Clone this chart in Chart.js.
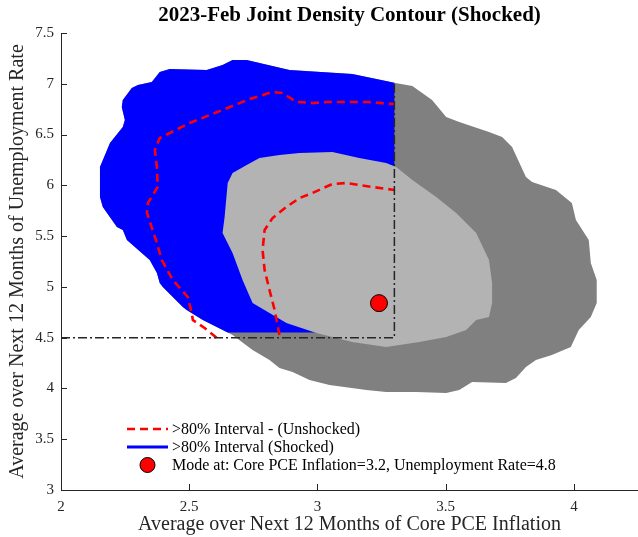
<!DOCTYPE html>
<html>
<head>
<meta charset="utf-8">
<script src="https://cdn.jsdelivr.net/npm/chart.js@4.4.1/dist/chart.umd.min.js"></script>
<style>
  html, body { margin: 0; padding: 0; background: #ffffff; }
  #wrap { width: 638px; height: 537px; }
</style>
</head>
<body>
<div id="wrap"><canvas id="chart"></canvas></div>
<script>
// Axis ticks
const xTicks = [2, 2.5, 3, 3.5, 4];
const yTicks = [3, 3.5, 4, 4.5, 5, 5.5, 6, 6.5, 7, 7.5];

// Shocked >80% region (outer contour)
const shockedX = [2.385, 2.424, 2.568, 2.630, 2.669, 2.724, 2.891, 3.136, 3.304, 3.370,
  3.447, 3.502, 3.553, 3.669, 3.720, 3.759, 3.813, 3.837, 3.930, 3.992,
  4.008, 4.058, 4.066, 4.089, 4.089, 4.066, 4.019, 3.988, 3.914, 3.852,
  3.813, 3.774, 3.735, 3.603, 3.553, 3.502, 3.385, 3.268, 3.191, 3.047,
  2.969, 2.903, 2.852, 2.813, 2.747, 2.669, 2.646, 2.553, 2.490, 2.475,
  2.397, 2.385, 2.374, 2.346, 2.257, 2.241, 2.218, 2.163, 2.152, 2.152,
  2.191, 2.241, 2.249, 2.237, 2.241, 2.276, 2.300, 2.354];
const shockedY = [7.116, 7.146, 7.136, 7.185, 7.234, 7.234, 7.136, 7.096, 7.008, 6.978,
  6.840, 6.673, 6.624, 6.525, 6.476, 6.378, 6.082, 6.033, 5.954, 5.826,
  5.659, 5.462, 5.235, 5.068, 4.841, 4.704, 4.576, 4.408, 4.329, 4.280,
  4.211, 4.103, 4.054, 4.064, 3.985, 3.955, 3.965, 3.965, 3.985, 4.034,
  4.083, 4.162, 4.201, 4.280, 4.379, 4.526, 4.556, 4.674, 4.773, 4.802,
  4.999, 5.038, 5.137, 5.265, 5.462, 5.560, 5.590, 5.787, 5.885, 6.181,
  6.417, 6.574, 6.643, 6.771, 6.840, 6.958, 6.988, 7.018];

// Inner high-density region
const coreX = [2.774, 2.852, 2.930, 3.058, 3.163, 3.268, 3.307, 3.370, 3.463, 3.541,
  3.619, 3.669, 3.681, 3.681, 3.669, 3.619, 3.580, 3.502, 3.397, 3.268,
  3.136, 2.996, 2.879, 2.747, 2.708, 2.669, 2.630, 2.638, 2.650, 2.669, 2.724];
const coreY = [6.269, 6.299, 6.318, 6.328, 6.269, 6.220, 6.181, 6.053, 5.885, 5.728,
  5.531, 5.265, 5.038, 4.841, 4.704, 4.674, 4.576, 4.507, 4.457, 4.408,
  4.457, 4.546, 4.645, 4.841, 5.068, 5.334, 5.531, 5.688, 6.023, 6.121, 6.200];

// Unshocked >80% interval, shown inside the quadrant only
const unshockedOuterX = [2.607, 2.560, 2.514, 2.510, 2.494, 2.436, 2.393, 2.374, 2.335, 2.339,
  2.377, 2.374, 2.366, 2.385, 2.502, 2.630, 2.735, 2.825, 2.864, 2.918,
  2.981, 3.047, 3.191, 3.300];
const unshockedOuterY = [4.500, 4.595, 4.674, 4.743, 4.901, 5.068, 5.265, 5.432, 5.728, 5.826,
  5.984, 6.181, 6.348, 6.466, 6.614, 6.742, 6.850, 6.919, 6.909, 6.821,
  6.811, 6.821, 6.821, 6.801];
const unshockedInnerX = [2.852, 2.833, 2.813, 2.794, 2.786, 2.794, 2.825, 2.879, 2.930, 2.981,
  3.058, 3.113, 3.214, 3.300];
const unshockedInnerY = [4.526, 4.773, 4.969, 5.166, 5.363, 5.560, 5.678, 5.787, 5.875, 5.925,
  6.013, 6.023, 5.984, 5.954];

// Quadrant thresholds and the mode
const cutoffX = 3.3;
const cutoffY = 4.5;
const cutoffTop = 7.0;
const shockedFloor = 4.55;
const modeX = 3.24;
const modeY = 4.84;

const SERIF = '"Liberation Serif", "Times New Roman", serif';
const AXIS = '#262626';

const toPoints = (xs, ys) => xs.map((x, i) => ({ x, y: ys[i] }));

// Sutherland-Hodgman clip of a closed polygon against one half-plane
function clipHalf(pts, inside, cut) {
  const out = [];
  for (let i = 0; i < pts.length; i++) {
    const a = pts[i], b = pts[(i + 1) % pts.length];
    const ia = inside(a), ib = inside(b);
    if (ia) out.push(a);
    if (ia !== ib) out.push(cut(a, b));
  }
  return out;
}
const atX = v => (a, b) => ({ x: v, y: a.y + (v - a.x) / (b.x - a.x) * (b.y - a.y) });
const atY = v => (a, b) => ({ x: a.x + (v - a.y) / (b.y - a.y) * (b.x - a.x), y: v });

const shockedPts = toPoints(shockedX, shockedY);
const shockedQuadrant = clipHalf(
  clipHalf(shockedPts, p => p.x <= cutoffX, atX(cutoffX)),
  p => p.y >= shockedFloor, atY(shockedFloor));

const LBL_UNSHOCKED = '>80% Interval - (Unshocked)';
const LBL_SHOCKED = '>80% Interval (Shocked)';
const LBL_MODE = 'Mode at: Core PCE Inflation=' + modeX.toFixed(1) +
  ', Unemployment Rate=' + modeY.toFixed(1);

const area = (label, pts, color) => ({
  label, data: pts, showLine: true, fill: 'shape', backgroundColor: color,
  borderColor: color, borderWidth: 0, pointRadius: 0, tension: 0
});
const curve = (label, pts, color, width, dash) => ({
  label, data: pts, showLine: true, fill: false, borderColor: color,
  backgroundColor: color, borderWidth: width, borderDash: dash, pointRadius: 0, tension: 0
});

const datasets = [
  { label: LBL_MODE, data: [{ x: modeX, y: modeY }], pointRadius: 8.5,
    backgroundColor: '#ff0000', borderColor: '#000000', borderWidth: 1, showLine: false },
  curve('cutoff', [{ x: 2, y: cutoffY }, { x: cutoffX, y: cutoffY }, { x: cutoffX, y: cutoffTop }],
    AXIS, 1.5, [9, 3, 2, 3]),
  curve(LBL_UNSHOCKED, toPoints(unshockedOuterX, unshockedOuterY), '#ff0000', 2.6, [8, 5]),
  curve('unshocked inner', toPoints(unshockedInnerX, unshockedInnerY), '#ff0000', 2.6, [8, 5]),
  area('core', toPoints(coreX, coreY), '#b3b3b3'),
  area(LBL_SHOCKED, shockedQuadrant, '#0000ff'),
  area('shocked', shockedPts, '#808080')
];

// Inward tick marks on the left and bottom axes
const innerTicks = {
  id: 'innerTicks',
  afterDatasetsDraw(chart) {
    const { ctx, chartArea, scales } = chart;
    ctx.save();
    ctx.strokeStyle = AXIS;
    ctx.lineWidth = 1;
    ctx.beginPath();
    scales.x.ticks.forEach(t => {
      const px = Math.round(scales.x.getPixelForValue(t.value)) + 0.5;
      ctx.moveTo(px, chartArea.bottom);
      ctx.lineTo(px, chartArea.bottom - 6);
    });
    scales.y.ticks.forEach(t => {
      const py = Math.round(scales.y.getPixelForValue(t.value)) + 0.5;
      ctx.moveTo(chartArea.left, py);
      ctx.lineTo(chartArea.left + 6, py);
    });
    ctx.stroke();
    ctx.restore();
  }
};

// Legend drawn inside the plot, lower left
const insetLegend = {
  id: 'insetLegend',
  afterDraw(chart) {
    const { ctx, chartArea } = chart;
    const entries = [LBL_UNSHOCKED, LBL_SHOCKED, LBL_MODE]
      .map(l => chart.data.datasets.find(d => d.label === l));
    const x0 = chartArea.left + 66;
    const y0 = chartArea.bottom - 61;
    ctx.save();
    ctx.font = '16px ' + SERIF;
    ctx.textBaseline = 'middle';
    ctx.fillStyle = '#000000';
    entries.forEach((d, i) => {
      const y = y0 + i * 18;
      ctx.save();
      if (d.label === LBL_MODE) {
        ctx.beginPath();
        ctx.arc(x0 + 20.5, y, 7.5, 0, Math.PI * 2);
        ctx.fillStyle = d.backgroundColor;
        ctx.fill();
        ctx.strokeStyle = d.borderColor;
        ctx.lineWidth = 1;
        ctx.stroke();
      } else {
        ctx.beginPath();
        ctx.setLineDash(d.borderDash || []);
        ctx.strokeStyle = d.label === LBL_SHOCKED ? d.backgroundColor : d.borderColor;
        ctx.lineWidth = d.label === LBL_SHOCKED ? 3 : 2.6;
        ctx.moveTo(x0, y);
        ctx.lineTo(x0 + 41, y);
        ctx.stroke();
      }
      ctx.restore();
      ctx.fillText(d.label, x0 + 45, y + 1);
    });
    ctx.restore();
  }
};

const plainTick = v => String(v);

new Chart(document.getElementById('chart'), {
  type: 'scatter',
  data: { datasets },
  plugins: [innerTicks, insetLegend],
  options: {
    responsive: true,
    maintainAspectRatio: false,
    animation: false,
    events: [],
    layout: { padding: 0, autoPadding: false },
    plugins: {
      legend: { display: false },
      tooltip: { enabled: false },
      title: {
        display: true,
        fullSize: false,
        text: '2023-Feb Joint Density Contour (Shocked)',
        color: '#000000',
        font: { family: SERIF, size: 21, weight: 'bold', lineHeight: 1.2 },
        padding: { top: 3, bottom: 4.8 }
      }
    },
    scales: {
      x: {
        type: 'linear', min: 2, max: 4.25,
        afterBuildTicks: s => { s.ticks = xTicks.map(v => ({ value: v })); },
        afterFit: s => { s.height = 47; s.paddingLeft = 0; s.paddingRight = 0; },
        grid: { display: false, drawTicks: false },
        border: { display: true, color: AXIS, width: 1, z: 1 },
        ticks: { font: { family: SERIF, size: 15 }, color: AXIS, padding: 8,
                 maxRotation: 0, autoSkip: false, callback: plainTick },
        title: { display: true, text: 'Average over Next 12 Months of Core PCE Inflation',
                 color: AXIS, font: { family: SERIF, size: 20, lineHeight: 1.2 },
                 padding: { top: 0, bottom: 0 } }
      },
      y: {
        type: 'linear', min: 3, max: 7.5,
        afterBuildTicks: s => { s.ticks = yTicks.map(v => ({ value: v })); },
        afterFit: s => { s.width = 61; s.paddingTop = 0; s.paddingBottom = 0; },
        grid: { display: false, drawTicks: false },
        border: { display: true, color: AXIS, width: 1, z: 1 },
        ticks: { font: { family: SERIF, size: 15 }, color: AXIS, padding: 7,
                 autoSkip: false, callback: plainTick },
        title: { display: true, text: 'Average over Next 12 Months of Unemployment Rate',
                 color: AXIS, font: { family: SERIF, size: 20, lineHeight: 1.2 },
                 padding: { top: 6, bottom: 0 } }
      }
    }
  }
});
</script>
</body>
</html>
